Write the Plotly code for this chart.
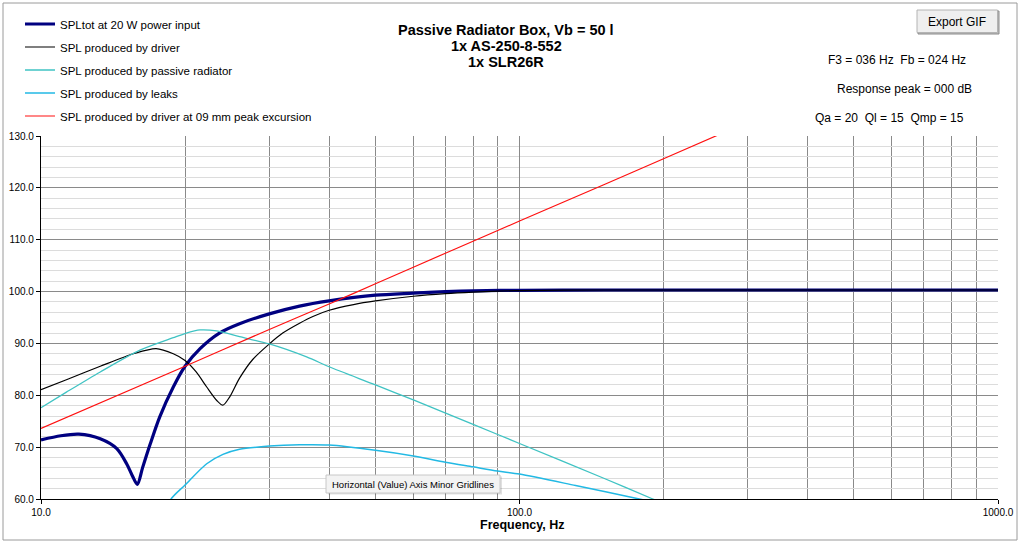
import plotly.graph_objects as go

# SPL curves of the passive radiator box
f_tot = [10, 11, 12, 13.3, 14.4, 15.1, 15.5, 15.9, 16.3, 16.9, 17.7, 18.9, 20,
         21.5, 23.6, 26, 30, 34.7, 40, 50, 60, 70, 80, 100, 150, 200, 1000]
spl_tot = [71.4, 72.2, 72.5, 71.6, 69.7, 66.8, 64.6, 62.8, 66.0, 70.5, 75.8, 81.6, 85.6,
           89.0, 92.0, 93.8, 95.7, 97.2, 98.2, 99.3, 99.7, 100.0, 100.15, 100.25, 100.3, 100.3, 100.3]

f_drv = [10, 11.3, 13.3, 15.6, 17.4, 18.9, 20, 21.1, 22.2, 23.3, 24.0, 24.8, 26,
         27.7, 30, 32, 34.7, 37, 40, 45, 50, 60, 70, 80, 90, 100, 150, 200, 1000]
spl_drv = [81.1, 83.0, 85.6, 88.0, 89.0, 88.0, 86.7, 84.5, 81.6, 79.0, 78.1, 79.7, 83.3,
           86.9, 89.9, 92.0, 93.9, 95.2, 96.4, 97.5, 98.2, 99.1, 99.6, 99.9, 100.1, 100.2,
           100.3, 100.3, 100.3]

f_pr = [10, 11.3, 13.3, 16.1, 18.9, 20, 21.5, 23.3, 26, 30, 35.9, 40, 50, 60, 80,
        100, 150, 190, 220]
spl_pr = [77.6, 80.6, 84.5, 88.7, 91.1, 91.9, 92.6, 92.4, 91.3, 89.9, 87.4, 85.5, 82.0,
          79.1, 74.4, 70.7, 64.0, 60.0, 57.5]

f_leak = [18, 18.7, 20, 22.2, 24, 26, 30, 34.7, 40, 50, 60, 70, 80, 90, 100, 131, 178, 200]
spl_leak = [56.5, 60.0, 62.7, 66.8, 68.6, 69.6, 70.2, 70.45, 70.4, 69.4, 68.3, 67.1,
            66.2, 65.4, 64.8, 62.6, 60.0, 59.0]

f_xmax = [10, 20, 30, 40, 50, 70, 100, 150, 200, 300]
spl_xmax = [73.6, 85.6, 92.7, 97.6, 101.5, 107.4, 113.6, 120.6, 125.6, 132.7]

x_major = [10, 100, 1000]
x_major_text = ["10.0", "100.0", "1000.0"]
x_minor = [20, 30, 40, 50, 60, 70, 80, 90, 200, 300, 400, 500, 600, 700, 800, 900]

FONT = "Liberation Sans, Arial, sans-serif"
W, H = 1024, 543
L, R, T, B = 41, 26, 136, 44


def px(x):
    return (x - L) / (W - L - R)


def py(y):
    return (H - B - y) / (H - T - B)


fig = go.Figure()

series = [
    (f_tot, spl_tot, "SPLtot at 20 W power input", "#000080", 3.2),
    (f_drv, spl_drv, "SPL produced by driver", "#000000", 1.2),
    (f_pr, spl_pr, "SPL produced by passive radiator", "#3fc3c3", 1.3),
    (f_leak, spl_leak, "SPL produced by leaks", "#22b9e4", 1.5),
    (f_xmax, spl_xmax, "SPL produced by driver at 09 mm peak excursion", "#ff1010", 1.2),
]
for i, (xs, ys, name, col, w) in enumerate(series):
    fig.add_trace(go.Scatter(
        x=xs, y=ys, name=name, mode="lines", legendgroup=str(i),
        line=dict(color=col, width=w, shape="spline", smoothing=0.8),
        hoverinfo="skip",
    ))

fig.update_xaxes(
    type="log", range=[1, 3],
    tickvals=x_major, ticktext=x_major_text,
    ticks="outside", ticklen=4, tickcolor="#000000",
    showgrid=True, gridcolor="#8a8a8a", gridwidth=1,
    minor=dict(tickvals=x_minor, showgrid=True, gridcolor="#8a8a8a", ticks=""),
    showline=True, linecolor="#000000", linewidth=1.2,
    tickfont=dict(size=10, color="#000000"),
    zeroline=False,
)
fig.update_yaxes(
    range=[60, 130], dtick=10, tickformat=".1f",
    ticks="outside", ticklen=4, tickcolor="#000000",
    showgrid=True, gridcolor="#8a8a8a", gridwidth=1,
    minor=dict(dtick=2, showgrid=True, gridcolor="#dcdcdc", ticks=""),
    showline=True, linecolor="#000000", linewidth=1.2,
    tickfont=dict(size=10, color="#000000"),
    zeroline=False,
)

shapes = [
    # chart frame
    dict(type="rect", xref="paper", yref="paper", x0=px(3), x1=px(1017), y0=py(540), y1=py(3),
         line=dict(color="#9a9a9a", width=1), layer="below"),
    # export button
    dict(type="rect", xref="paper", yref="paper", x0=px(918), x1=px(999), y0=py(34), y1=py(11),
         line=dict(color="#8c8c8c", width=1), fillcolor="#bdbdbd"),
    dict(type="rect", xref="paper", yref="paper", x0=px(917), x1=px(997.5), y0=py(32.5), y1=py(10),
         line=dict(color="#b4b4b4", width=1), fillcolor="#efefef"),
    # tooltip
    dict(type="rect", xref="paper", yref="paper", x0=px(328), x1=px(502), y0=py(494.5), y1=py(476.5),
         line=dict(width=0), fillcolor="rgba(0,0,0,0.12)"),
    dict(type="rect", xref="paper", yref="paper", x0=px(326), x1=px(500), y0=py(493), y1=py(475),
         line=dict(color="#c8c8c8", width=1), fillcolor="#f3f3f3"),
]

annotations = []


def label(text, x, y, size, bold=False):
    annotations.append(dict(
        text=f"<b>{text}</b>" if bold else text, x=px(x), y=py(y), xref="paper", yref="paper",
        showarrow=False, xanchor="center", yanchor="middle",
        font=dict(family=FONT, size=size, color="#000000"),
    ))


label("Passive Radiator Box, Vb = 50 l", 506, 30, 14.5, True)
label("1x AS-250-8-552", 506, 46, 14.5, True)
label("1x SLR26R", 506, 62, 14.5, True)
label("F3 = 036 Hz  Fb = 024 Hz", 897, 60, 12)
label("Response peak = 000 dB", 904, 89, 12)
label("Qa = 20  Ql = 15  Qmp = 15", 889, 118, 12)
label("Export GIF", 957, 22, 12)
label("Horizontal (Value) Axis Minor Gridlines", 413, 484, 9.5)
label("Frequency, Hz", 522, 525, 12.5, True)

fig.update_layout(
    width=W, height=H,
    margin=dict(l=L, r=R, t=T, b=B, autoexpand=False),
    paper_bgcolor="#ffffff", plot_bgcolor="#ffffff",
    font=dict(family=FONT, color="#000000"),
    showlegend=True,
    legend=dict(
        xref="container", yref="container", x=20 / W, y=1 - 9.5 / H,
        xanchor="left", yanchor="top",
        font=dict(size=11.5, color="#000000"),
        bgcolor="rgba(0,0,0,0)", tracegroupgap=4, itemwidth=30,
    ),
    shapes=shapes, annotations=annotations,
)

# page body has a default margin, drop it so the figure sits at 0,0
fig.write_html("out.html", config={"displayModeBar": False},
               post_script="document.body.style.margin='0';")
